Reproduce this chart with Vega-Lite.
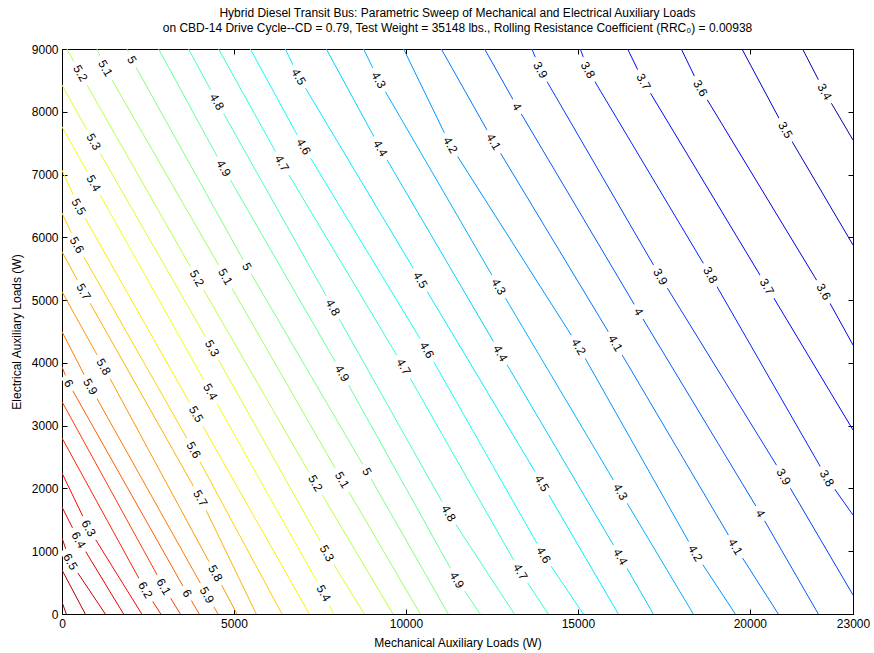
{
  "$schema": "https://vega.github.io/schema/vega-lite/v6.json",
  "width": 791,
  "height": 565,
  "autosize": {"type": "none"},
  "padding": {"left": 62, "top": 49, "right": 21, "bottom": 39},
  "background": "white",
  "title": {
    "text": [
      "Hybrid Diesel Transit Bus: Parametric Sweep of Mechanical and Electrical Auxiliary Loads",
      "on CBD-14 Drive Cycle--CD = 0.79, Test Weight = 35148 lbs., Rolling Resistance Coefficient (RRC₀) = 0.00938"
    ],
    "fontSize": 12,
    "fontWeight": "normal",
    "font": "Liberation Sans",
    "color": "black",
    "anchor": "middle",
    "offset": 8,
    "lineHeight": 15
  },
  "config": {
    "view": {"stroke": "black", "strokeWidth": 1},
    "font": "Liberation Sans",
    "axis": {
      "grid": false,
      "domainColor": "black",
      "tickColor": "black",
      "labelColor": "black",
      "titleColor": "black",
      "labelFont": "Liberation Sans",
      "titleFont": "Liberation Sans",
      "labelFontSize": 12,
      "titleFontSize": 12,
      "titleFontWeight": "normal",
      "tickSize": -5
    }
  },
  "datasets": {
    "lines": [
      {"level": 3.4, "M": 21534, "E": 9000}, {"level": 3.4, "M": 22174, "E": 8320}, {"level": 3.4, "M": 23000, "E": 7550},
      {"level": 3.5, "M": 19772, "E": 9000}, {"level": 3.5, "M": 21031, "E": 7710}, {"level": 3.5, "M": 23000, "E": 5878},
      {"level": 3.6, "M": 18007, "E": 9000}, {"level": 3.6, "M": 18560, "E": 8374}, {"level": 3.6, "M": 22145, "E": 5134}, {"level": 3.6, "M": 23000, "E": 4285},
      {"level": 3.7, "M": 16446, "E": 9000}, {"level": 3.7, "M": 16911, "E": 8479}, {"level": 3.7, "M": 20499, "E": 5214}, {"level": 3.7, "M": 23000, "E": 2931},
      {"level": 3.8, "M": 15071, "E": 9000}, {"level": 3.8, "M": 15294, "E": 8665}, {"level": 3.8, "M": 18851, "E": 5400}, {"level": 3.8, "M": 22244, "E": 2162}, {"level": 3.8, "M": 23000, "E": 1577},
      {"level": 3.9, "M": 13666, "E": 9000}, {"level": 3.9, "M": 13908, "E": 8665}, {"level": 3.9, "M": 17397, "E": 5373}, {"level": 3.9, "M": 20982, "E": 2187}, {"level": 3.9, "M": 23000, "E": 303},
      {"level": 4.0, "M": 12288, "E": 9000}, {"level": 4.0, "M": 13230, "E": 8081}, {"level": 4.0, "M": 16766, "E": 4815}, {"level": 4.0, "M": 20304, "E": 1604}, {"level": 4.0, "M": 21991, "E": 0},
      {"level": 4.1, "M": 11029, "E": 9000}, {"level": 4.1, "M": 12550, "E": 7523}, {"level": 4.1, "M": 16088, "E": 4312}, {"level": 4.1, "M": 19578, "E": 1072}, {"level": 4.1, "M": 20828, "E": 0},
      {"level": 4.2, "M": 9933, "E": 9000}, {"level": 4.2, "M": 11291, "E": 7471}, {"level": 4.2, "M": 15021, "E": 4258}, {"level": 4.2, "M": 18414, "E": 967}, {"level": 4.2, "M": 19578, "E": 0},
      {"level": 4.3, "M": 8770, "E": 9000}, {"level": 4.3, "M": 9206, "E": 8506}, {"level": 4.3, "M": 12695, "E": 5214}, {"level": 4.3, "M": 16234, "E": 1948}, {"level": 4.3, "M": 18356, "E": 0},
      {"level": 4.4, "M": 7685, "E": 9000}, {"level": 4.4, "M": 9255, "E": 7418}, {"level": 4.4, "M": 12745, "E": 4153}, {"level": 4.4, "M": 16234, "E": 913}, {"level": 4.4, "M": 17193, "E": 0},
      {"level": 4.5, "M": 6493, "E": 9000}, {"level": 4.5, "M": 6880, "E": 8559}, {"level": 4.5, "M": 10418, "E": 5320}, {"level": 4.5, "M": 13957, "E": 2082}, {"level": 4.5, "M": 16176, "E": 0},
      {"level": 4.6, "M": 5475, "E": 9000}, {"level": 4.6, "M": 7025, "E": 7444}, {"level": 4.6, "M": 10613, "E": 4205}, {"level": 4.6, "M": 14004, "E": 940}, {"level": 4.6, "M": 15158, "E": 0},
      {"level": 4.7, "M": 4553, "E": 9000}, {"level": 4.7, "M": 6397, "E": 7179}, {"level": 4.7, "M": 9933, "E": 3939}, {"level": 4.7, "M": 13326, "E": 674}, {"level": 4.7, "M": 14140, "E": 0},
      {"level": 4.8, "M": 3681, "E": 9000}, {"level": 4.8, "M": 4507, "E": 8160}, {"level": 4.8, "M": 7874, "E": 4882}, {"level": 4.8, "M": 11241, "E": 1604}, {"level": 4.8, "M": 13152, "E": 0},
      {"level": 4.9, "M": 2809, "E": 9000}, {"level": 4.9, "M": 4699, "E": 7100}, {"level": 4.9, "M": 8142, "E": 3834}, {"level": 4.9, "M": 11485, "E": 542}, {"level": 4.9, "M": 12163, "E": 0},
      {"level": 5.0, "M": 1890, "E": 9000}, {"level": 5.0, "M": 2035, "E": 8825}, {"level": 5.0, "M": 5379, "E": 5532}, {"level": 5.0, "M": 8868, "E": 2267}, {"level": 5.0, "M": 11232, "E": 0},
      {"level": 5.1, "M": 1018, "E": 9000}, {"level": 5.1, "M": 1259, "E": 8692}, {"level": 5.1, "M": 4748, "E": 5373}, {"level": 5.1, "M": 8142, "E": 2134}, {"level": 5.1, "M": 10418, "E": 0},
      {"level": 5.2, "M": 145, "E": 9000}, {"level": 5.2, "M": 532, "E": 8613}, {"level": 5.2, "M": 3925, "E": 5347}, {"level": 5.2, "M": 7365, "E": 2082}, {"level": 5.2, "M": 9624, "E": 0},
      {"level": 5.3, "M": 0, "E": 8426}, {"level": 5.3, "M": 919, "E": 7523}, {"level": 5.3, "M": 4362, "E": 4232}, {"level": 5.3, "M": 7705, "E": 967}, {"level": 5.3, "M": 8790, "E": 0},
      {"level": 5.4, "M": 0, "E": 7762}, {"level": 5.4, "M": 919, "E": 6861}, {"level": 5.4, "M": 4312, "E": 3541}, {"level": 5.4, "M": 7607, "E": 330}, {"level": 5.4, "M": 7897, "E": 0},
      {"level": 5.5, "M": 0, "E": 7072}, {"level": 5.5, "M": 483, "E": 6488}, {"level": 5.5, "M": 3899, "E": 3183}, {"level": 5.5, "M": 7191, "E": 0},
      {"level": 5.6, "M": 0, "E": 6388}, {"level": 5.6, "M": 436, "E": 5878}, {"level": 5.6, "M": 3827, "E": 2612}, {"level": 5.6, "M": 6397, "E": 0},
      {"level": 5.7, "M": 0, "E": 5771}, {"level": 5.7, "M": 628, "E": 5134}, {"level": 5.7, "M": 4021, "E": 1843}, {"level": 5.7, "M": 5650, "E": 0},
      {"level": 5.8, "M": 0, "E": 5134}, {"level": 5.8, "M": 1210, "E": 3939}, {"level": 5.8, "M": 4457, "E": 648}, {"level": 5.8, "M": 5088, "E": 0},
      {"level": 5.9, "M": 0, "E": 4497}, {"level": 5.9, "M": 823, "E": 3621}, {"level": 5.9, "M": 4216, "E": 303}, {"level": 5.9, "M": 4536, "E": 0},
      {"level": 6.0, "M": 0, "E": 3939}, {"level": 6.0, "M": 192, "E": 3674}, {"level": 6.0, "M": 3635, "E": 330}, {"level": 6.0, "M": 3992, "E": 0},
      {"level": 6.1, "M": 0, "E": 3382}, {"level": 6.1, "M": 2954, "E": 435}, {"level": 6.1, "M": 3440, "E": 0},
      {"level": 6.2, "M": 0, "E": 2804}, {"level": 6.2, "M": 2422, "E": 382}, {"level": 6.2, "M": 2873, "E": 0},
      {"level": 6.3, "M": 0, "E": 2246}, {"level": 6.3, "M": 773, "E": 1365}, {"level": 6.3, "M": 2320, "E": 0},
      {"level": 6.4, "M": 0, "E": 1704}, {"level": 6.4, "M": 483, "E": 1179}, {"level": 6.4, "M": 1791, "E": 0},
      {"level": 6.5, "M": 0, "E": 1211}, {"level": 6.5, "M": 241, "E": 833}, {"level": 6.5, "M": 1259, "E": 0},
      {"level": 6.6, "M": 0, "E": 701}, {"level": 6.6, "M": 677, "E": 0},
      {"level": 6.7, "M": 0, "E": 191}, {"level": 6.7, "M": 125, "E": 0}
    ],
    "labels": [
      {"label": "3.4", "M": 22174, "E": 8320},
      {"label": "3.5", "M": 21031, "E": 7710},
      {"label": "3.6", "M": 18560, "E": 8374}, {"label": "3.6", "M": 22145, "E": 5134},
      {"label": "3.7", "M": 16911, "E": 8479}, {"label": "3.7", "M": 20499, "E": 5214},
      {"label": "3.8", "M": 15294, "E": 8665}, {"label": "3.8", "M": 18851, "E": 5400}, {"label": "3.8", "M": 22244, "E": 2162},
      {"label": "3.9", "M": 13908, "E": 8665}, {"label": "3.9", "M": 17397, "E": 5373}, {"label": "3.9", "M": 20982, "E": 2187},
      {"label": "4", "M": 13230, "E": 8081}, {"label": "4", "M": 16766, "E": 4815}, {"label": "4", "M": 20304, "E": 1604},
      {"label": "4.1", "M": 12550, "E": 7523}, {"label": "4.1", "M": 16088, "E": 4312}, {"label": "4.1", "M": 19578, "E": 1072},
      {"label": "4.2", "M": 11291, "E": 7471}, {"label": "4.2", "M": 15021, "E": 4258}, {"label": "4.2", "M": 18414, "E": 967},
      {"label": "4.3", "M": 9206, "E": 8506}, {"label": "4.3", "M": 12695, "E": 5214}, {"label": "4.3", "M": 16234, "E": 1948},
      {"label": "4.4", "M": 9255, "E": 7418}, {"label": "4.4", "M": 12745, "E": 4153}, {"label": "4.4", "M": 16234, "E": 913},
      {"label": "4.5", "M": 6880, "E": 8559}, {"label": "4.5", "M": 10418, "E": 5320}, {"label": "4.5", "M": 13957, "E": 2082},
      {"label": "4.6", "M": 7025, "E": 7444}, {"label": "4.6", "M": 10613, "E": 4205}, {"label": "4.6", "M": 14004, "E": 940},
      {"label": "4.7", "M": 6397, "E": 7179}, {"label": "4.7", "M": 9933, "E": 3939}, {"label": "4.7", "M": 13326, "E": 674},
      {"label": "4.8", "M": 4507, "E": 8160}, {"label": "4.8", "M": 7874, "E": 4882}, {"label": "4.8", "M": 11241, "E": 1604},
      {"label": "4.9", "M": 4699, "E": 7100}, {"label": "4.9", "M": 8142, "E": 3834}, {"label": "4.9", "M": 11485, "E": 542},
      {"label": "5", "M": 2035, "E": 8825}, {"label": "5", "M": 5379, "E": 5532}, {"label": "5", "M": 8868, "E": 2267},
      {"label": "5.1", "M": 1259, "E": 8692}, {"label": "5.1", "M": 4748, "E": 5373}, {"label": "5.1", "M": 8142, "E": 2134},
      {"label": "5.2", "M": 532, "E": 8613}, {"label": "5.2", "M": 3925, "E": 5347}, {"label": "5.2", "M": 7365, "E": 2082},
      {"label": "5.3", "M": 919, "E": 7523}, {"label": "5.3", "M": 4362, "E": 4232}, {"label": "5.3", "M": 7705, "E": 967},
      {"label": "5.4", "M": 919, "E": 6861}, {"label": "5.4", "M": 4312, "E": 3541}, {"label": "5.4", "M": 7607, "E": 330},
      {"label": "5.5", "M": 483, "E": 6488}, {"label": "5.5", "M": 3899, "E": 3183},
      {"label": "5.6", "M": 436, "E": 5878}, {"label": "5.6", "M": 3827, "E": 2612},
      {"label": "5.7", "M": 628, "E": 5134}, {"label": "5.7", "M": 4021, "E": 1843},
      {"label": "5.8", "M": 1210, "E": 3939}, {"label": "5.8", "M": 4457, "E": 648},
      {"label": "5.9", "M": 823, "E": 3621}, {"label": "5.9", "M": 4216, "E": 303},
      {"label": "6", "M": 192, "E": 3674}, {"label": "6", "M": 3635, "E": 330},
      {"label": "6.1", "M": 2954, "E": 435},
      {"label": "6.2", "M": 2422, "E": 382},
      {"label": "6.3", "M": 773, "E": 1365},
      {"label": "6.4", "M": 483, "E": 1179},
      {"label": "6.5", "M": 241, "E": 833}
    ]
  },
  "resolve": {"axis": {"x": "independent", "y": "independent"}},
  "layer": [
    {
      "data": {"name": "lines"},
      "mark": {"type": "line", "strokeWidth": 1, "clip": true},
      "encoding": {
        "x": {
          "field": "M", "type": "quantitative",
          "scale": {"domain": [0, 23000], "nice": false, "zero": false},
          "axis": {"values": [0, 5000, 10000, 15000, 20000, 23000], "format": "d", "title": "Mechanical Auxiliary Loads (W)", "labelPadding": 9, "titlePadding": 8, "labelFlush": false}
        },
        "y": {
          "field": "E", "type": "quantitative",
          "scale": {"domain": [0, 9000], "nice": false, "zero": false},
          "axis": {"values": [0, 1000, 2000, 3000, 4000, 5000, 6000, 7000, 8000, 9000], "format": "d", "title": "Electrical Auxiliary Loads (W)", "labelPadding": 9, "titlePadding": 8, "labelFlush": false}
        },
        "color": {
          "field": "level", "type": "quantitative", "legend": null,
          "scale": {"domain": [3.25, 3.6875, 4.5625, 5.4375, 6.3125, 6.75], "range": ["#000080", "#0000ff", "#00ffff", "#ffff00", "#ff0000", "#800000"], "interpolate": "rgb"}
        },
        "detail": {"field": "level", "type": "nominal"}
      }
    },
    {
      "data": {"name": "labels"},
      "transform": [{"filter": "length(datum.label) > 1"}],
      "mark": {"type": "point", "shape": "M -1 -0.3 L 1 -0.3 L 1 0.3 L -1 0.3 Z", "angle": 60, "filled": true, "fill": "white", "opacity": 1, "strokeWidth": 0, "size": 729},
      "encoding": {
        "x": {"field": "M", "type": "quantitative", "axis": null},
        "y": {"field": "E", "type": "quantitative", "axis": null}
      }
    },
    {
      "data": {"name": "labels"},
      "transform": [{"filter": "length(datum.label) == 1"}],
      "mark": {"type": "point", "shape": "M -1 -0.45 L 1 -0.45 L 1 0.45 L -1 0.45 Z", "angle": 60, "filled": true, "fill": "white", "opacity": 1, "strokeWidth": 0, "size": 289},
      "encoding": {
        "x": {"field": "M", "type": "quantitative", "axis": null},
        "y": {"field": "E", "type": "quantitative", "axis": null}
      }
    },
    {
      "data": {"name": "labels"},
      "mark": {"type": "text", "angle": 60, "fontSize": 12, "font": "Liberation Sans", "color": "black", "align": "center", "baseline": "middle"},
      "encoding": {
        "x": {"field": "M", "type": "quantitative", "axis": {"orient": "top", "labels": false, "title": null, "values": [0, 5000, 10000, 15000, 20000, 23000], "domain": false}},
        "y": {"field": "E", "type": "quantitative", "axis": {"orient": "right", "labels": false, "title": null, "values": [0, 1000, 2000, 3000, 4000, 5000, 6000, 7000, 8000, 9000], "domain": false}},
        "text": {"field": "label", "type": "nominal"}
      }
    }
  ]
}
